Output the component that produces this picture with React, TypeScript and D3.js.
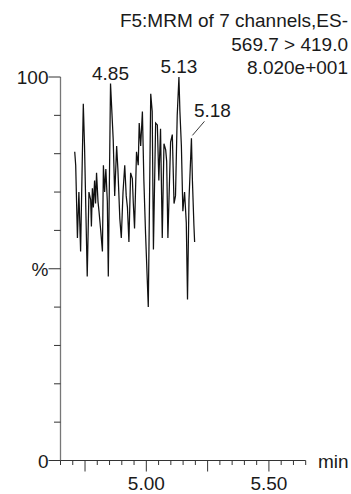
import React from "react";
import * as d3 from "d3";

const times = [
  4.708, 4.712, 4.719, 4.725, 4.732, 4.743, 4.748, 4.759, 4.766, 4.773, 4.776, 4.78, 4.784, 4.789,
  4.793, 4.797, 4.803, 4.807, 4.814, 4.821, 4.825, 4.83, 4.835, 4.841, 4.845, 4.854, 4.865, 4.871,
  4.879, 4.884, 4.892, 4.898, 4.905, 4.912, 4.918, 4.923, 4.929, 4.936, 4.943, 4.947, 4.952, 4.96,
  4.967, 4.971, 4.977, 4.984, 4.99, 4.997, 5.008, 5.018, 5.024, 5.029, 5.038, 5.045, 5.051, 5.058,
  5.065, 5.072, 5.079, 5.083, 5.088, 5.099, 5.106, 5.113, 5.119, 5.126, 5.133, 5.137, 5.143, 5.149,
  5.156, 5.163, 5.168, 5.174, 5.184, 5.188, 5.194, 5.197,
];
const intensity = [
  80.5, 77, 58, 70, 54.5, 93, 82, 48, 70, 68, 61, 71, 66, 73,
  67, 75, 67.5, 65, 60, 54.5, 77, 70, 76, 67.5, 48, 98.3, 83.6, 69,
  82, 76, 63, 58, 70, 77, 69, 66, 57, 75, 73.5, 67, 60.5, 80.5,
  77, 88, 82, 91, 73, 59, 40, 95.6, 91, 55, 88, 87.5, 73, 86.5,
  58, 82.6, 81, 78, 58, 83, 85, 67, 69, 90, 100, 91, 82, 65,
  70, 62, 42, 68, 84, 73, 61.5, 57,
];

const peakTimes = [4.854, 5.133, 5.184];
const peakValues = [98.3, 100, 84];
const peakLabels = ["4.85", "5.13", "5.18"];

const headerLines = ["F5:MRM of 7 channels,ES-", "569.7 > 419.0", "8.020e+001"];
const xLabelTicks = [5.0, 5.5];
const yLabels: [number, string][] = [
  [0, "0"],
  [50, "%"],
  [100, "100"],
];

const FONT = "'Liberation Sans', Arial, Helvetica, sans-serif";

export default function App() {
  const x = d3.scaleLinear().domain([4.65, 5.65]).range([60.5, 305.7]);
  const y = d3.scaleLinear().domain([0, 100]).range([460.5, 77]);
  const data = times.map((t, i) => [t, intensity[i]] as [number, number]);
  const line = d3
    .line<[number, number]>()
    .x((d) => x(d[0]))
    .y((d) => y(d[1]));

  const minorTicks = d3.range(0, 21).map((i) => 4.65 + i * 0.05);
  const yTicks = d3.range(0, 11).map((i) => i * 10);
  const textColor = "#1a1a1a";
  const fs = 19;
  const x0 = x(4.65);

  return (
    <svg
      width={351}
      height={494}
      style={{ position: "absolute", left: 0, top: 0, background: "#fff" }}
      fontFamily={FONT}
    >
      {headerLines.map((t, i) => (
        <text key={i} x={348} y={27 + i * 23.5} textAnchor="end" fontSize={fs} fill={textColor}>
          {t}
        </text>
      ))}

      {/* y axis */}
      <line x1={x0} x2={x0} y1={y(100)} y2={y(0)} stroke="#777" strokeWidth={1.3} />
      {yTicks.map((v) => {
        const labeled = v % 50 === 0;
        return (
          <line
            key={v}
            x1={x0 - (labeled ? 12 : 6.5)}
            x2={x0}
            y1={y(v)}
            y2={y(v)}
            stroke="#333"
            strokeWidth={1}
          />
        );
      })}
      {yLabels.map(([v, s]) => (
        <text key={s} x={x0 - 12} y={y(v) + 7} textAnchor="end" fontSize={fs} fill={textColor}>
          {s}
        </text>
      ))}

      {/* x axis */}
      <line x1={x0} x2={x(5.65)} y1={y(0)} y2={y(0)} stroke="#333" strokeWidth={1} />
      {minorTicks.map((t, i) => {
        const major = i % 5 === 2;
        return (
          <line
            key={i}
            x1={x(t)}
            x2={x(t)}
            y1={y(0)}
            y2={y(0) + (major ? 11 : 4.5)}
            stroke="#333"
            strokeWidth={1}
          />
        );
      })}
      {xLabelTicks.map((t) => (
        <text key={t} x={x(t)} y={489.5} textAnchor="middle" fontSize={fs} fill={textColor}>
          {t.toFixed(2)}
        </text>
      ))}
      <text x={318} y={468} fontSize={fs} fill={textColor}>
        min
      </text>

      {/* trace */}
      <path d={line(data) || ""} fill="none" stroke="#111" strokeWidth={1.25} strokeLinejoin="miter" />

      {/* peak labels */}
      {peakLabels.map((s, i) => {
        const px = x(peakTimes[i]);
        const py = y(peakValues[i]);
        if (i === 2) {
          return (
            <g key={s}>
              <line x1={px + 1} y1={py - 3} x2={px + 13} y2={py - 17} stroke="#222" strokeWidth={0.9} />
              <text x={px + 21} y={py - 21} textAnchor="middle" fontSize={fs} fill={textColor}>
                {s}
              </text>
            </g>
          );
        }
        return (
          <text key={s} x={px} y={py - 4} textAnchor="middle" fontSize={fs} fill={textColor}>
            {s}
          </text>
        );
      })}
    </svg>
  );
}
